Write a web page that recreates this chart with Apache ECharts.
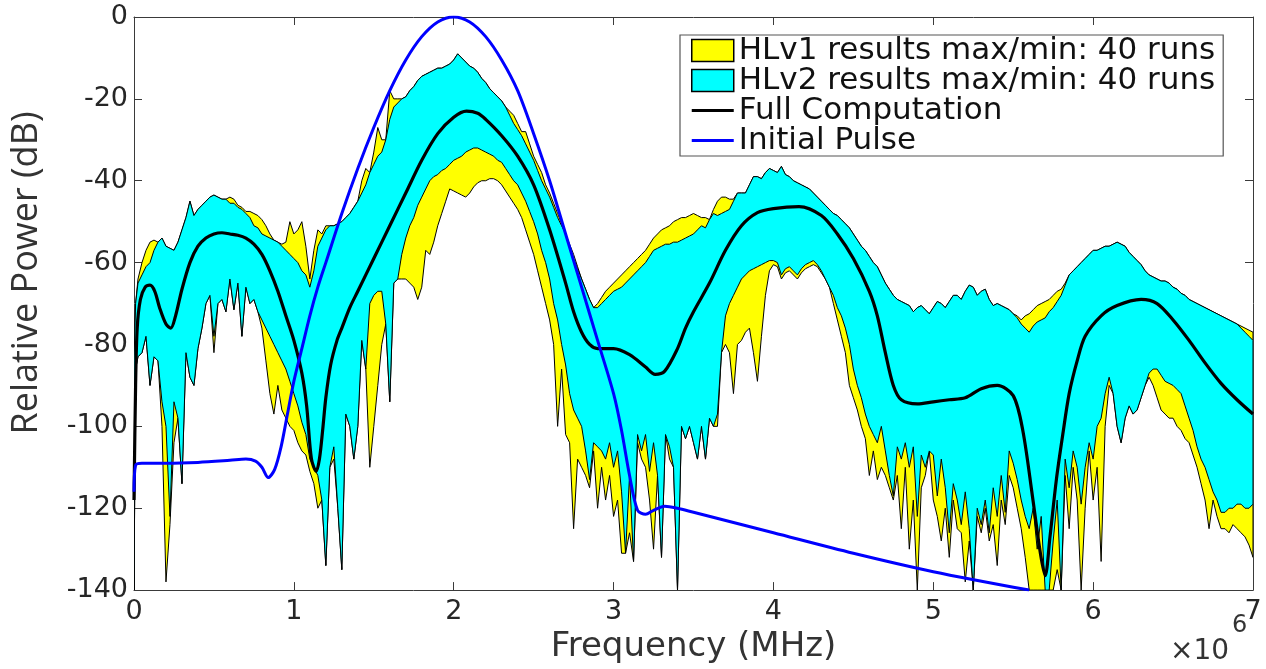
<!DOCTYPE html>
<html><head><meta charset="utf-8">
<script src="https://cdn.jsdelivr.net/npm/echarts@6/dist/echarts.min.js"></script>
<style>html,body{margin:0;padding:0;background:#fff}#c{width:1266px;height:669px}</style>
</head><body><div id="c"></div>
<script>
// Frequency grid (MHz) shared by the max/min envelopes
const freq = [0,0.01,0.025,0.05,0.075,0.1,0.125,0.15,0.175,0.2,0.225,0.25,0.275,0.3,0.325,0.35,0.375,0.4,0.425,0.45,0.475,0.5,0.525,0.55,0.575,0.6,0.625,0.65,0.675,0.7,0.725,0.75,0.775,0.8,0.825,0.85,0.875,0.9,0.925,0.95,0.975,
1,1.025,1.05,1.075,1.1,1.125,1.15,1.175,1.2,1.225,1.25,1.275,1.3,1.325,1.35,1.375,1.4,1.425,1.45,1.475,1.5,1.525,1.55,1.575,1.6,1.625,1.65,1.675,1.7,1.725,1.75,1.775,1.8,1.825,1.85,1.875,1.9,1.925,1.95,1.975,
2,2.025,2.05,2.075,2.1,2.125,2.15,2.175,2.2,2.225,2.25,2.275,2.3,2.325,2.35,2.375,2.4,2.425,2.45,2.475,2.5,2.525,2.55,2.575,2.6,2.625,2.65,2.675,2.7,2.725,2.75,2.775,2.8,2.825,2.85,2.875,2.9,2.925,2.95,2.975,
3,3.025,3.05,3.075,3.1,3.125,3.15,3.175,3.2,3.225,3.25,3.275,3.3,3.325,3.35,3.375,3.4,3.425,3.45,3.475,3.5,3.525,3.55,3.575,3.6,3.625,3.65,3.675,3.7,3.725,3.75,3.775,3.8,3.825,3.85,3.875,3.9,3.925,3.95,3.975,
4,4.025,4.05,4.075,4.1,4.125,4.15,4.175,4.2,4.225,4.25,4.275,4.3,4.325,4.35,4.375,4.4,4.425,4.45,4.475,4.5,4.525,4.55,4.575,4.6,4.625,4.65,4.675,4.7,4.725,4.75,4.775,4.8,4.825,4.85,4.875,4.9,4.925,4.95,4.975,
5,5.025,5.05,5.075,5.1,5.125,5.15,5.175,5.2,5.225,5.25,5.275,5.3,5.325,5.35,5.375,5.4,5.425,5.45,5.475,5.5,5.525,5.55,5.575,5.6,5.625,5.65,5.675,5.7,5.725,5.75,5.775,5.8,5.825,5.85,5.875,5.9,5.925,5.95,5.975,
6,6.025,6.05,6.075,6.1,6.125,6.15,6.175,6.2,6.225,6.25,6.275,6.3,6.325,6.35,6.375,6.4,6.425,6.45,6.475,6.5,6.525,6.55,6.575,6.6,6.625,6.65,6.675,6.7,6.725,6.75,6.775,6.8,6.825,6.85,6.875,6.9,6.925,6.95,6.975,
7];

// HLv2 envelope (cyan), dB
const hlv2Max = [-84,-70,-65,-63,-61,-60,-57,-55,-54,-56,-56.5,-57,-55,-52,-49,-45,-48.5,-47,-46,-45,-44,-43.5,-44,-44.5,-44.5,-45.5,-45.5,-46.5,-47,-48,-49,-51,-51.5,-53,-53.5,-54,-54.5,-55,-56,-57,-58,
-59,-60,-62,-63,-66,-62,-56,-54,-52,-51,-51,-50.5,-50,-49,-48,-46.5,-45,-43,-41,-38,-36,-34,-33,-30,-25,-22,-21,-20,-19.5,-18,-17,-15.5,-14.5,-14,-13.5,-13,-12.5,-12.5,-12,-11.5,
-10.5,-9,-10,-11,-12,-12.5,-13.5,-15,-16,-17.5,-18.5,-19.5,-20.5,-22,-24,-26,-27.5,-29,-31,-33,-35,-37.5,-40,-42,-44,-46.5,-49,-51,-53,-56,-59,-61.5,-64,-66.5,-69,-71,-71,-70,-69,-68,
-67,-66.5,-66,-65,-64,-63,-62,-61,-60,-58.5,-57,-56.5,-56,-55.5,-55.5,-55,-55,-54.5,-54,-53.5,-53,-52,-51,-51.5,-49.5,-48,-48.5,-48,-47.5,-47,-45,-43,-43,-43,-41,-39,-39,-39.5,-38,-37,
-37.5,-38,-36.5,-38.5,-39,-40,-40.5,-41,-41.5,-42,-43,-44,-45,-46,-47,-48,-48.5,-49.5,-50.5,-51.5,-53,-54.5,-56,-57,-58.5,-60,-61,-63,-65,-66.5,-68,-69,-69.5,-70,-70.5,-72,-71,-70.5,-71.5,-72.5,
-71,-69.5,-70,-71,-69.5,-68,-68,-69,-67,-65.5,-66,-68,-67,-66.5,-69,-70.5,-70,-70.5,-71,-71.5,-72.5,-73.5,-75,-76,-77,-75.5,-74.5,-74,-73.5,-72,-71,-69.5,-68,-65.5,-63,-62,-61,-60,-59,-58,
-57,-57,-56.5,-56,-56,-55.5,-55,-55.5,-56,-57.5,-58.5,-59.5,-60.5,-62,-63,-63.5,-64,-64.5,-64.5,-65,-66,-66.5,-67.5,-68,-69,-69.5,-70,-70.5,-71,-71.5,-72,-72.5,-73,-73.5,-74,-74.5,-75,-76,-77,-78,
-79];
const hlv2Min = [-140,-86,-83,-82,-78,-90,-83,-84,-94,-100,-122,-94,-98,-114,-82,-88,-90,-81,-76,-70,-68,-78,-70,-69,-72,-64,-71.5,-65,-78,-66,-70,-69,-72,-74,-76,-78,-80,-82,-84,-86,-89,
-92,-95,-99,-102,-108,-110,-112,-118,-134,-110,-105,-120,-135,-97,-100,-108,-100,-79,-86,-70,-68,-67,-67,-75,-94,-65,-64,-58,-54,-51,-49,-46,-44,-42,-40,-39,-38.5,-37.5,-37,-36,
-35,-34.5,-34,-33,-32.5,-32,-32,-32.5,-33,-33.5,-34,-35,-35.5,-37,-38.5,-40,-41,-43,-45,-47.5,-50,-53,-57,-60,-64,-70,-74,-80,-85,-92,-96,-98,-100,-106,-113,-104,-105,-106,-108,-104,
-110,-106,-116,-131,-112,-133,-102,-106,-102,-111,-104,-112,-132,-102,-105,-110,-140,-100,-103,-100,-104,-108,-100,-108,-98,-100,-97,-82,-73,-70,-68,-66,-64,-63,-62,-61.5,-61,-60.5,-60,-59.5,
-59.5,-60,-63,-61.5,-61,-62,-63,-61.5,-60.5,-60,-59.5,-60.5,-62,-64,-66,-68,-71,-73,-76,-80,-86,-90,-93,-97,-100,-102,-104,-100,-106,-112,-117,-105,-108,-104,-110,-105,-122,-107,-110,-106,
-107,-117,-108,-115,-126,-114,-118,-124,-116,-125,-140,-120,-124,-118,-126,-115,-122,-112,-121,-106,-109,-113,-118,-122,-125,-120,-130,-122,-140,-140,-128,-118,-140,-108,-115,-106,-110,-119,-110,-104,
-108,-100,-98,-92,-88,-92,-100,-104,-98,-95,-97,-96,-93,-90,-87,-86,-86,-87.5,-89,-89.5,-90,-91,-92,-95,-98,-101,-105,-108,-110,-113,-116,-118,-121,-121,-120,-120,-119,-119,-120,-120,
-119];

// HLv1 envelope (yellow), dB
const hlv1Max = [-84,-70,-64,-60,-57,-55,-54.5,-55,-54,-56,-56.5,-57,-55,-52,-49,-45,-48.5,-47,-46,-45,-44,-43.5,-44,-44.5,-44.5,-44,-44.5,-46,-46.5,-47.5,-47.5,-48,-48.5,-49.5,-51,-53,-54.5,-55,-55.5,-55,-50,
-53,-52,-50,-56,-64,-57,-52,-53,-51,-51,-51,-50.5,-50,-49,-48,-46.5,-45,-40,-37,-38,-33,-27,-30,-30,-18,-20,-20,-20,-19.5,-18,-17,-15.5,-14.5,-14,-13.5,-13,-12.5,-12.5,-12,-11.5,
-10.5,-9,-10,-11,-12,-12.5,-13.5,-15,-16,-17.5,-18.5,-19.5,-20.5,-22,-23,-24,-26,-28,-28,-31,-34,-36,-38,-41,-43,-45.5,-48,-50.5,-53,-55.5,-58,-61,-64,-66.5,-69,-71,-70,-68.5,-67,-66,
-65,-64,-63,-62,-61,-60,-59,-58,-57,-55.5,-54,-53,-52,-51.5,-51,-50,-49.5,-49,-49,-48.5,-48,-48.5,-49,-49,-49.5,-47,-45,-44,-44,-44.5,-44.5,-43,-43,-43,-41,-39,-39,-39.5,-38,-37,
-37.5,-38,-36.5,-38.5,-39,-40,-40.5,-41,-41.5,-42,-43,-44,-45,-46,-47,-48,-48.5,-49.5,-50.5,-51.5,-53,-54.5,-56,-57,-58.5,-60,-61,-63,-65,-66.5,-68,-69,-69.5,-70,-70.5,-72,-71,-70.5,-71.5,-72.5,
-71,-69.5,-70,-71,-69.5,-68,-68,-69,-67,-65.5,-66,-68,-67,-66.5,-69,-70.5,-70,-70.5,-71,-71.5,-72.5,-73,-74,-73,-72.5,-71.5,-70.5,-70,-69.5,-69,-68,-67,-66.5,-65,-63,-62,-61,-60,-59,-58,
-57,-57,-56.5,-56,-56,-55.5,-55,-55.5,-56,-57.5,-58.5,-59.5,-60.5,-62,-63,-63.5,-64,-64.5,-64.5,-65,-66,-66.5,-67.5,-68,-69,-69.5,-70,-70.5,-71,-71.5,-72,-72.5,-73,-73.5,-74,-74.5,-75,-75.5,-76,-76.5,
-77];
const hlv1Min = [-140,-86,-83,-82,-78,-90,-83,-84,-100,-138,-124,-104,-98,-114,-82,-88,-90,-81,-76,-70,-68,-82,-70,-69,-72,-64,-71.5,-65,-78,-66,-70,-69,-72,-76,-84,-92,-97,-90,-96,-98,-100,
-101,-104,-106,-107,-111,-114,-120,-118,-134,-110,-108,-120,-135,-97,-100,-108,-100,-79,-86,-110,-100,-90,-80,-75,-94,-65,-64,-64,-64,-65,-66,-69,-66,-57,-58,-55,-51,-48,-45,-42,
-42.5,-43,-43.5,-44,-43,-41.5,-40.5,-40,-40,-39.5,-39.5,-40,-41,-42.5,-44,-45.5,-47,-49,-52,-55,-58,-62,-66,-70,-74,-80,-100,-86,-102,-104,-125,-108,-110,-112,-115,-106,-120,-110,-118,-112,
-122,-118,-131,-131,-126,-133,-104,-108,-110,-118,-130,-112,-132,-102,-108,-110,-140,-100,-103,-100,-104,-108,-100,-108,-98,-100,-100,-82,-80,-82,-92,-80,-79,-77,-76,-82,-89,-78,-68,-62,
-60.5,-61,-64,-62.5,-62,-63,-64,-62.5,-61.5,-61,-60.5,-61,-62.5,-64,-66,-70,-74,-78,-82,-90,-93,-96,-100,-103,-112,-106,-113,-110,-112,-115,-118,-112,-125,-110,-130,-118,-140,-115,-112,-106,
-118,-122,-128,-120,-132,-118,-125,-126,-138,-128,-140,-122,-126,-120,-128,-124,-134,-118,-124,-112,-115,-120,-125,-132,-140,-140,-140,-140,-140,-140,-140,-135,-140,-112,-125,-110,-118,-140,-120,-106,
-118,-110,-133,-100,-90,-92,-100,-104,-98,-95,-97,-96,-93,-90,-88,-90,-93,-96,-97,-98,-98,-100,-101,-103,-104,-107,-110,-114,-118,-125,-118,-122,-125,-125,-126,-124,-125,-126,-127,-129,
-132];

// Full computation (black)
const fullFreq = [0,0.01,0.02,0.04,0.07,0.10,0.13,0.16,0.20,0.23,0.26,0.30,0.35,0.40,0.45,0.50,0.55,0.60,0.65,0.70,0.75,0.80,0.85,0.90,0.95,
1.00,1.05,1.08,1.11,1.14,1.16,1.18,1.20,1.23,1.27,1.30,1.35,1.40,1.50,1.60,1.70,1.80,1.90,2.00,2.08,2.15,2.20,2.30,2.40,2.50,2.60,2.70,2.75,2.80,2.85,2.90,
3.00,3.10,3.20,3.26,3.32,3.40,3.45,3.50,3.60,3.70,3.80,3.90,4.00,4.16,4.30,4.40,4.50,4.60,4.65,4.70,4.75,4.80,4.90,
5.00,5.10,5.20,5.30,5.40,5.50,5.56,5.62,5.67,5.70,5.73,5.77,5.81,5.85,5.90,5.95,6.05,6.15,6.30,6.40,6.50,6.60,6.70,6.80,6.90,7.00];
const fullDb = [-118,-90,-76,-69,-66,-65.5,-67,-71,-75,-76,-73,-66.5,-60,-56,-54,-53,-52.7,-53,-53.3,-54,-55.5,-58,-62,-67,-73,
-79,-87,-95,-108,-111,-108,-101,-93,-85,-79,-76,-71,-67,-59,-51,-43,-35,-28.5,-24.5,-23,-23.5,-25,-29,-34,-41,-52,-65,-72,-77,-80,-81,
-81,-82.5,-85.5,-87.3,-86.5,-81,-76,-72,-65,-57,-51,-47.8,-46.8,-46.3,-48.5,-53,-59,-67,-73,-82,-90,-93.5,-94.5,
-94,-93.5,-93,-90.8,-90,-92.5,-101,-117,-131,-136.5,-127,-113,-102,-92,-84,-78,-73,-70.5,-69,-70,-74,-79,-84.5,-89.5,-93.5,-97];

// Initial pulse (blue)
const pulseFreq = [0,0.01,0.05,0.2,0.4,0.6,0.7,0.76,0.8,0.84,0.88,0.92,0.96,1.0,1.05,1.1,1.15,1.2,1.3,1.4,1.5,1.6,1.7,1.8,1.9,
2.0,2.1,2.2,2.3,2.4,2.5,2.6,2.7,2.8,2.9,3.0,3.05,3.1,3.15,3.2,3.25,3.32,3.4,3.5,4.0,4.5,5.0,5.6];
const pulseDb = [-116,-109.5,-109,-109,-108.8,-108.3,-108,-108.5,-110,-112.5,-110.5,-105,-97,-89,-81,-73,-66,-60,-48,-37,-27,-18,-10.5,-4.8,-1.2,
0,-1.2,-4.8,-10.5,-18,-28.5,-40,-53,-66,-79,-92,-101,-112,-120.5,-121.5,-120.5,-119.5,-120,-121,-126,-131,-135.5,-140];

const names = ['HLv1 results max/min: 40 runs','HLv2 results max/min: 40 runs','Full Computation','Initial Pulse'];

const chart = echarts.init(document.getElementById('c'), null, {renderer:'canvas'});
const AX = '#3a3a3a', TXT = '#262626', FONT = 'DejaVu Sans';

function band(name, upper, lower, color) {
  return {
    name: name, type: 'custom', data: [[freq[0], upper[0]]], clip: true, silent: true,
    itemStyle: {color: color, borderColor: '#000', borderWidth: 1},
    renderItem: function (params, api) {
      const pts = [];
      for (let i = 0; i < freq.length; i++) pts.push(api.coord([freq[i], upper[i]]));
      for (let i = freq.length - 1; i >= 0; i--) pts.push(api.coord([freq[i], lower[i]]));
      return {type: 'polygon', shape: {points: pts}, style: {fill: color, stroke: '#000', lineWidth: 1}};
    }
  };
}
const zip = (a, b) => a.map((v, i) => [v, b[i]]);

const axisCommon = {
  type: 'value', axisLine: {show: true, onZero: false, lineStyle: {color: AX, width: 1}},
  axisTick: {show: true, inside: true, length: 8, lineStyle: {color: AX}},
  splitLine: {show: false}
};

const graphics = [
  {type: 'text', x: 27, y: 273, rotation: Math.PI / 2,
    style: {text: 'Relative Power (dB)', font: '36px "Liberation Sans Narrow", "Open Sans", sans-serif', fill: '#333',
      textAlign: 'center', textVerticalAlign: 'middle'}},
  {type: 'text', x: 1170, y: 638, style: {text: '×10', font: '28px "DejaVu Sans"', fill: '#333'}},
  {type: 'text', x: 1232, y: 614, style: {text: '6', font: '24px "DejaVu Sans"', fill: '#333'}}
];

chart.setOption({
  animation: false,
  backgroundColor: '#fff',
  grid: {left: 134, right: 13, top: 17, bottom: 78, containLabel: false},
  xAxis: [
    Object.assign({}, axisCommon, {min: 0, max: 7, interval: 1, position: 'bottom',
      axisLabel: {fontSize: 27, color: TXT, fontFamily: FONT, margin: 8, formatter: v => String(v)},
      name: 'Frequency (MHz)', nameLocation: 'middle', nameGap: 31,
      nameTextStyle: {fontSize: 34, color: '#333', fontFamily: FONT, verticalAlign: 'top'}}),
    Object.assign({}, axisCommon, {min: 0, max: 7, interval: 1, position: 'top', axisLabel: {show: false}})
  ],
  yAxis: [
    Object.assign({}, axisCommon, {min: -140, max: 0, interval: 20, position: 'left',
      axisLabel: {fontSize: 27, color: TXT, fontFamily: FONT, margin: 6}}),
    Object.assign({}, axisCommon, {min: -140, max: 0, interval: 20, position: 'right', axisLabel: {show: false}})
  ],
  legend: {
    orient: 'vertical', left: 680, top: 35, padding: [0, 8, 0, 11],
    backgroundColor: '#fff', borderColor: '#555', borderWidth: 1.2, borderRadius: 0,
    itemWidth: 42, itemHeight: 22, itemGap: -1, symbolKeepAspect: false,
    textStyle: {fontSize: 31, color: '#111', fontFamily: FONT},
    data: [
      {name: names[0], icon: 'rect', itemStyle: {color: '#ffff00', borderColor: '#000', borderWidth: 1.5}},
      {name: names[1], icon: 'rect', itemStyle: {color: '#00ffff', borderColor: '#000', borderWidth: 1.5}},
      {name: names[2], icon: 'path://M0,0 M42,22 M0,9.5 L42,9.5 L42,12.5 L0,12.5 Z', itemStyle: {color: '#000', borderWidth: 0}},
      {name: names[3], icon: 'path://M0,0 M42,22 M0,9.5 L42,9.5 L42,12.5 L0,12.5 Z', itemStyle: {color: '#0000ff', borderWidth: 0}}
    ]
  },
  graphic: graphics,
  series: [
    band(names[0], hlv1Max, hlv1Min, '#ffff00'),
    band(names[1], hlv2Max, hlv2Min, '#00ffff'),
    {name: names[2], type: 'line', data: zip(fullFreq, fullDb), symbol: 'none', smooth: 0.3, clip: true,
      lineStyle: {color: '#000', width: 3.2}, itemStyle: {color: '#000'}, z: 3},
    {name: names[3], type: 'line', data: zip(pulseFreq, pulseDb), symbol: 'none', smooth: 0.3, clip: true,
      lineStyle: {color: '#0000ff', width: 3}, itemStyle: {color: '#0000ff'}, z: 4}
  ]
});
</script></body></html>
